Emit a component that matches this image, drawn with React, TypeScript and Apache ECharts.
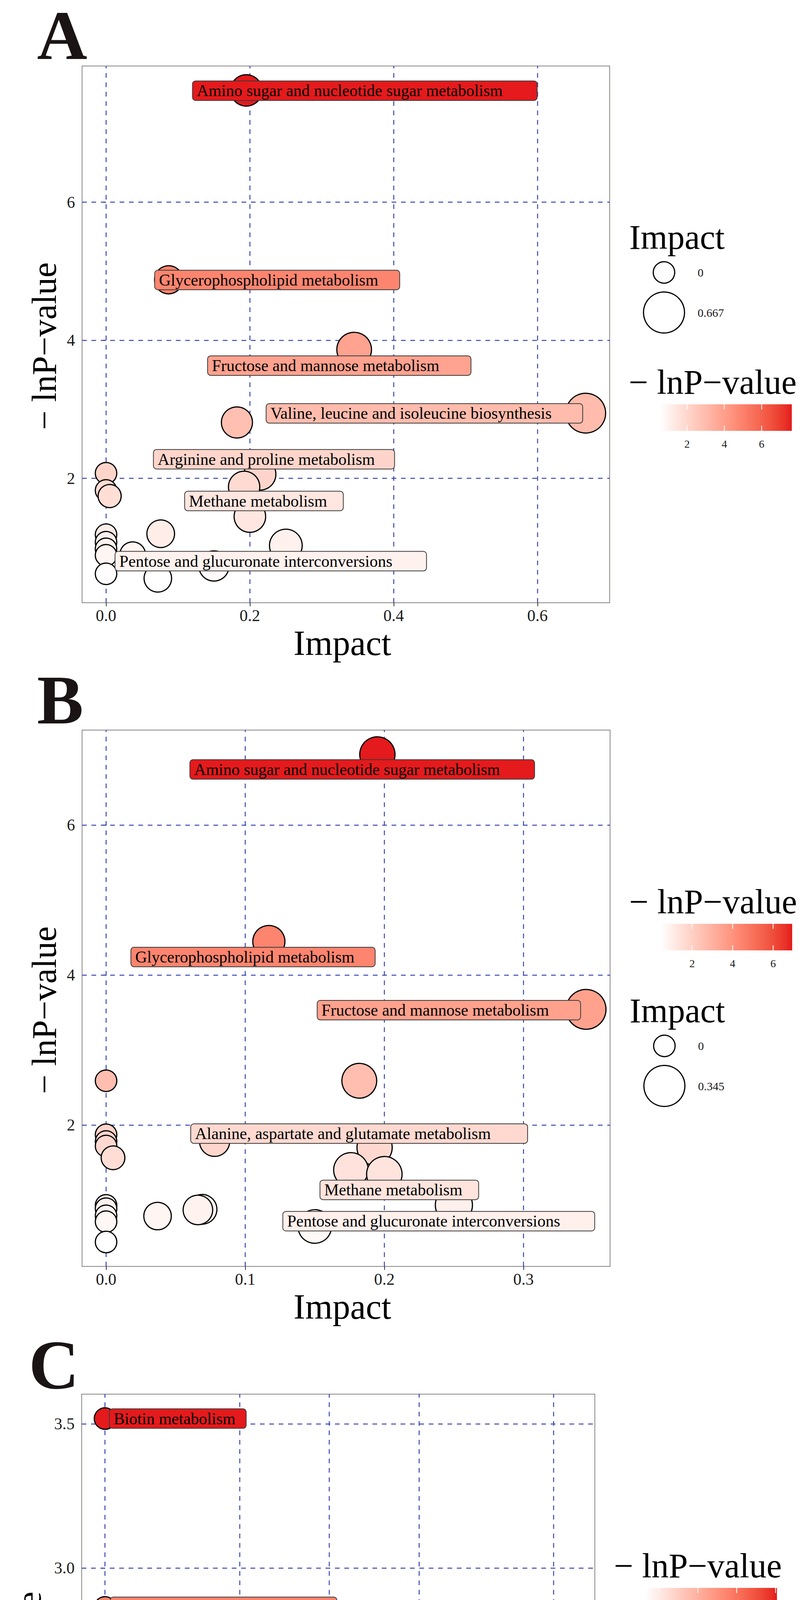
import React, { useEffect, useRef } from "react";
import * as echarts from "echarts";

const FONT = "'Liberation Serif', 'Times New Roman', Times, serif";
const LOW_RGB = [255, 255, 255];
const HIGH_RGB = [228, 26, 28];
const GRID_COLOR = "#3A48B2";
const FRAME_COLOR = "#8a8585";
const MINUS_TITLE = "\u2212 lnP\u2212value";

// ---------------- Panel A ----------------
const namesA = [
  "Amino sugar and nucleotide sugar metabolism",
  "Glycerophospholipid metabolism",
  "Fructose and mannose metabolism",
  "Valine, leucine and isoleucine biosynthesis",
  "",
  "",
  "Arginine and proline metabolism",
  "",
  "",
  "",
  "Methane metabolism",
  "",
  "",
  "",
  "Pentose and glucuronate interconversions",
  "",
  "",
  "",
  "",
  "",
  "",
];
const impactA = [0.195, 0.087, 0.345, 0.667, 0.182, 0, 0.214, 0.192, 0, 0.005, 0.2, 0.076, 0, 0, 0.25, 0, 0.037, 0, 0.15, 0, 0.072];
const lnpA = [7.62, 4.877, 3.865, 2.945, 2.81, 2.075, 2.06, 1.877, 1.825, 1.744, 1.447, 1.198, 1.184, 1.076, 1.027, 0.98, 0.893, 0.886, 0.731, 0.618, 0.552];
const xTicksA = [0, 0.2, 0.4, 0.6];
const yTicksA = [2, 4, 6];
const colorTicksA = [2, 4, 6];

// ---------------- Panel B ----------------
const namesB = [
  "Amino sugar and nucleotide sugar metabolism",
  "Glycerophospholipid metabolism",
  "Fructose and mannose metabolism",
  "",
  "",
  "",
  "",
  "",
  "",
  "Alanine, aspartate and glutamate metabolism",
  "",
  "",
  "Methane metabolism",
  "Pentose and glucuronate interconversions",
  "",
  "",
  "",
  "",
  "",
  "",
  "",
  "",
  "",
];
const impactB = [0.195, 0.117, 0.345, 0.182, 0, 0, 0.078, 0, 0, 0.193, 0.005, 0.176, 0.2, 0.25, 0, 0, 0.069, 0.066, 0, 0.037, 0, 0.15, 0];
const lnpB = [6.94, 4.446, 3.542, 2.59, 2.59, 1.87, 1.783, 1.78, 1.72, 1.7, 1.563, 1.401, 1.344, 0.932, 0.929, 0.885, 0.876, 0.868, 0.79, 0.786, 0.711, 0.647, 0.44];
const xTicksB = [0, 0.1, 0.2, 0.3];
const yTicksB = [2, 4, 6];
const colorTicksB = [2, 4, 6];

// ---------------- Panel C ----------------
const namesC = ["Biotin metabolism", "Aminoacyl\u2212tRNA biosynthesis", "Cysteine and methionine metabolism"];
const impactC = [0, 0, 0.104];
const lnpC = [3.518, 2.864, 1.824];
const xTicksC = [0, 0.025, 0.05, 0.075, 0.1];
const yTicksC = [2, 2.5, 3, 3.5];
const colorTicksC = [2, 2.5, 3, 3.5];

// ---------------- label layout (box left edge / box centre, box width) ----------------
const labelLayoutA = [
  { name: namesA[0], at: [0.1207, 7.616], w: 882 },
  { name: namesA[1], at: [0.0681, 4.874], w: 627 },
  { name: namesA[2], at: [0.1417, 3.634], w: 674 },
  { name: namesA[3], at: [0.2231, 2.941], w: 810 },
  { name: namesA[6], at: [0.0664, 2.277], w: 617 },
  { name: namesA[10], at: [0.1098, 1.672], w: 406 },
  { name: namesA[14], at: [0.013, 0.801], w: 797 },
];
const labelLayoutB = [
  { name: namesB[0], at: [0.0605, 6.74], w: 882 },
  { name: namesB[1], at: [0.0181, 4.24], w: 625 },
  { name: namesB[2], at: [0.152, 3.531], w: 674 },
  { name: namesB[9], at: [0.0611, 1.885], w: 862 },
  { name: namesB[12], at: [0.154, 1.135], w: 406 },
  { name: namesB[13], at: [0.1273, 0.718], w: 798 },
];
const labelLayoutC = [
  { name: namesC[0], at: [0.00106, 3.518], w: 350 },
  { name: namesC[1], at: [0.00124, 2.866], w: 580 },
  { name: namesC[2], at: [0.0411, 1.823], w: 707 },
];

// ---------------- colour helpers (Lab interpolation like ggplot) ----------------
function toLin(c: number) {
  c /= 255;
  return c <= 0.04045 ? c / 12.92 : Math.pow((c + 0.055) / 1.055, 2.4);
}
function fromLin(c: number) {
  const v = c <= 0.0031308 ? 12.92 * c : 1.055 * Math.pow(c, 1 / 2.4) - 0.055;
  return Math.round(Math.max(0, Math.min(1, v)) * 255);
}
function rgbToLab(rgb: number[]) {
  const R = toLin(rgb[0]), G = toLin(rgb[1]), B = toLin(rgb[2]);
  const X = (0.4124 * R + 0.3576 * G + 0.1805 * B) / 0.95047;
  const Y = 0.2126 * R + 0.7152 * G + 0.0722 * B;
  const Z = (0.0193 * R + 0.1192 * G + 0.9505 * B) / 1.08883;
  const f = (t: number) => (t > 0.008856 ? Math.cbrt(t) : 7.787 * t + 16 / 116);
  const fx = f(X), fy = f(Y), fz = f(Z);
  return [116 * fy - 16, 500 * (fx - fy), 200 * (fy - fz)];
}
function labToRgb(lab: number[]) {
  const fy = (lab[0] + 16) / 116;
  const fx = fy + lab[1] / 500;
  const fz = fy - lab[2] / 200;
  const inv = (t: number) => (t * t * t > 0.008856 ? t * t * t : (t - 16 / 116) / 7.787);
  const X = inv(fx) * 0.95047, Y = inv(fy), Z = inv(fz) * 1.08883;
  const R = 3.2406 * X - 1.5372 * Y - 0.4986 * Z;
  const G = -0.9689 * X + 1.8758 * Y + 0.0415 * Z;
  const B = 0.0557 * X - 0.204 * Y + 1.057 * Z;
  return [fromLin(R), fromLin(G), fromLin(B)];
}
const LAB_LOW = rgbToLab(LOW_RGB);
const LAB_HIGH = rgbToLab(HIGH_RGB);
function colorAt(t: number) {
  const tt = Math.max(0, Math.min(1, t));
  const lab = [0, 1, 2].map((i) => LAB_LOW[i] + (LAB_HIGH[i] - LAB_LOW[i]) * tt);
  const c = labToRgb(lab);
  return `rgb(${c[0]},${c[1]},${c[2]})`;
}

const SIZE_MIN = 55;
const SIZE_MAX = 102;
function sizeFor(x: number, xmax: number) {
  return SIZE_MIN + (SIZE_MAX - SIZE_MIN) * Math.sqrt(Math.max(0, x) / xmax);
}

const panels = [
  {
    letter: "A", names: namesA, impact: impactA, lnp: lnpA, xTicks: xTicksA, yTicks: yTicksA,
    xDigits: 1, yDigits: 0, colorTicks: colorTicksA, colorDigits: 0, labels: labelLayoutA,
    grid: { left: 210, top: 169, width: 1350, height: 1374 },
    yTitle: [113, 886], xTitle: [876, 1646], letterPos: [159, 91],
    sizeLegendY: 607, colorLegendY: 978,
  },
  {
    letter: "B", names: namesB, impact: impactB, lnp: lnpB, xTicks: xTicksB, yTicks: yTicksB,
    xDigits: 1, yDigits: 0, colorTicks: colorTicksB, colorDigits: 0, labels: labelLayoutB,
    grid: { left: 210, top: 1869, width: 1351, height: 1373 },
    yTitle: [113, 2586], xTitle: [876, 3345], letterPos: [154, 1792],
    sizeLegendY: 2587, colorLegendY: 2308,
  },
  {
    letter: "C", names: namesC, impact: impactC, lnp: lnpC, xTicks: xTicksC, yTicks: yTicksC,
    xDigits: 3, yDigits: 1, colorTicks: colorTicksC, colorDigits: 1, labels: labelLayoutC,
    grid: { left: 209, top: 3569, width: 1313, height: 1377 },
    yTitle: [74, 4289], xTitle: [856, 5046], letterPos: [138, 3494],
    sizeLegendY: 4291, colorLegendY: 4008,
  },
];

function txt(text: string, x: number, y: number, size: number, align: string, extra: any = {}) {
  return {
    type: "text",
    x,
    y,
    silent: true,
    z: 10,
    style: { text, fontSize: size, fontFamily: FONT, fill: "#000", align, verticalAlign: "middle", ...extra },
  };
}

function buildOption() {
  const grids: any[] = [];
  const xAxes: any[] = [];
  const yAxes: any[] = [];
  const series: any[] = [];
  const graphics: any[] = [];

  panels.forEach((p, i) => {
    const xmax = Math.max(...p.impact);
    const xmin = Math.min(0, ...p.impact);
    const ymin = Math.min(...p.lnp);
    const ymax = Math.max(...p.lnp);
    const xr = xmax - xmin;
    const yr = ymax - ymin;

    grids.push({ ...p.grid, show: true, borderColor: FRAME_COLOR, borderWidth: 2, backgroundColor: "#fff" });

    xAxes.push({
      gridIndex: i, type: "value", min: xmin - 0.05 * xr, max: xmax + 0.05 * xr,
      axisLine: { show: false }, splitLine: { show: false },
      axisTick: { show: true, customValues: p.xTicks, length: 9, lineStyle: { color: "#333", width: 2 } },
      axisLabel: {
        customValues: p.xTicks, formatter: (v: number) => Number(v).toFixed(p.xDigits),
        fontSize: 42, fontFamily: FONT, color: "#1a1a1a", margin: 12,
      },
    });
    yAxes.push({
      gridIndex: i, type: "value", min: ymin - 0.05 * yr, max: ymax + 0.05 * yr,
      axisLine: { show: false }, splitLine: { show: false },
      axisTick: { show: true, customValues: p.yTicks, length: 9, lineStyle: { color: "#333", width: 2 } },
      axisLabel: {
        customValues: p.yTicks, formatter: (v: number) => Number(v).toFixed(p.yDigits),
        fontSize: 42, fontFamily: FONT, color: "#1a1a1a", margin: 18,
      },
    });

    // dashed major grid lines
    series.push({
      type: "scatter", xAxisIndex: i, yAxisIndex: i, z: 1, silent: true, symbolSize: 0,
      data: [[p.xTicks[0], p.yTicks[0]]],
      markLine: {
        silent: true, z: 1, symbol: ["none", "none"], label: { show: false },
        emphasis: { disabled: true },
        lineStyle: { type: [12, 12], color: GRID_COLOR, width: 2.5, opacity: 1 },
        data: [...p.xTicks.map((v) => ({ xAxis: v })), ...p.yTicks.map((v) => ({ yAxis: v }))],
      },
    });

    // bubbles
    series.push({
      type: "scatter", xAxisIndex: i, yAxisIndex: i, z: 3, silent: true, clip: false, symbol: "circle",
      itemStyle: { borderColor: "#000", borderWidth: 3, opacity: 1 },
      emphasis: { disabled: true },
      data: p.impact.map((x, k) => ({
        name: p.names[k],
        value: [x, p.lnp[k]],
        symbolSize: sizeFor(x, xmax),
        itemStyle: { color: colorAt((p.lnp[k] - ymin) / yr) },
      })),
    });

    // repelled labels
    series.push({
      type: "scatter", xAxisIndex: i, yAxisIndex: i, z: 4, silent: true, clip: false, symbolSize: 0.1,
      itemStyle: { color: "rgba(0,0,0,0)", opacity: 1 },
      emphasis: { disabled: true },
      data: p.labels.map((l) => {
        const k = p.names.indexOf(l.name);
        return {
          name: l.name,
          value: l.at,
          label: {
            show: true, position: "right", distance: 0, formatter: "{b}",
            width: l.w - 12, align: "left", opacity: 1,
            backgroundColor: colorAt((p.lnp[k] - ymin) / yr),
            borderColor: "#3a3a3a", borderWidth: 2, borderRadius: 7,
            padding: [3, 0, 3, 10], fontSize: 42, lineHeight: 42, fontFamily: FONT, color: "#000",
          },
        };
      }),
    });

    // titles & panel letter
    graphics.push(txt(p.letter, p.letterPos[0], p.letterPos[1], 178, "center", { fontWeight: "bold", fill: "#1a1414" }));
    graphics.push({ ...txt(MINUS_TITLE, p.yTitle[0], p.yTitle[1], 88, "center"), rotation: Math.PI / 2 });
    graphics.push(txt("Impact", p.xTitle[0], p.xTitle[1], 90, "center"));

    // legends
    const R = p.grid.left + p.grid.width;
    const sy = p.sizeLegendY;
    const c0 = sy + 90.5;
    const c1 = c0 + 102.5;
    graphics.push(txt("Impact", R + 50, sy, 88, "left"));
    graphics.push({ type: "circle", silent: true, shape: { cx: R + 139, cy: c0, r: 27.5 }, style: { fill: "#fff", stroke: "#000", lineWidth: 3 } });
    graphics.push({ type: "circle", silent: true, shape: { cx: R + 139, cy: c1, r: 52.5 }, style: { fill: "#fff", stroke: "#000", lineWidth: 3 } });
    graphics.push(txt("0", R + 225, c0, 30, "left", { fill: "#1a1a1a" }));
    graphics.push(txt(xmax.toFixed(3), R + 225, c1, 30, "left", { fill: "#1a1a1a" }));

    const cy = p.colorLegendY;
    graphics.push(txt(MINUS_TITLE, R + 49, cy, 88, "left"));
    const barTop = cy + 57;
    const barH = 68;
    const barL = R + 129;
    const barW = 337;
    const stops = [];
    for (let s = 0; s <= 20; s++) stops.push({ offset: s / 20, color: colorAt(s / 20) });
    graphics.push({
      type: "rect", silent: true,
      shape: { x: barL, y: barTop, width: barW, height: barH },
      style: { fill: { type: "linear", x: 0, y: 0, x2: 1, y2: 0, colorStops: stops } },
    });
    p.colorTicks.forEach((t) => {
      const px = barL + ((t - ymin) / yr) * barW;
      graphics.push({ type: "line", silent: true, z: 11, shape: { x1: px, y1: barTop, x2: px, y2: barTop + 13 }, style: { stroke: "#fff", lineWidth: 2 } });
      graphics.push({ type: "line", silent: true, z: 11, shape: { x1: px, y1: barTop + barH - 13, x2: px, y2: barTop + barH }, style: { stroke: "#fff", lineWidth: 2 } });
      graphics.push(txt(t.toFixed(p.colorDigits), px, barTop + barH + 33, 28, "center", { fill: "#1a1a1a" }));
    });
  });

  return {
    animation: false,
    backgroundColor: "#fff",
    grid: grids,
    xAxis: xAxes,
    yAxis: yAxes,
    series,
    graphic: { elements: graphics },
  };
}

export default function App() {
  const ref = useRef<HTMLDivElement>(null);
  useEffect(() => {
    if (!ref.current) return;
    const chart = echarts.init(ref.current, null, { renderer: "svg" });
    chart.setOption(buildOption() as any);
    return () => chart.dispose();
  }, []);
  return (
    <div
      ref={ref}
      style={{ position: "absolute", left: 0, top: 0, width: 2070, height: 5131, background: "#fff" }}
    />
  );
}
